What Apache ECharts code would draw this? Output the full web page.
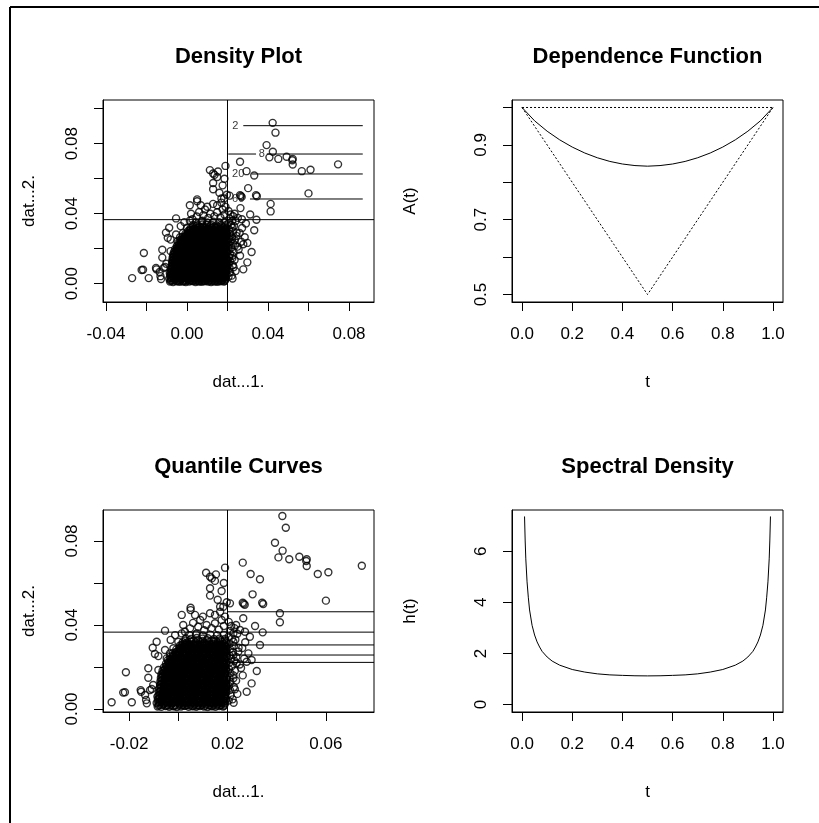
<!DOCTYPE html>
<html>
<head>
<meta charset="utf-8">
<script src="https://cdn.jsdelivr.net/npm/echarts@6.0.0/dist/echarts.min.js"></script>
<style>
html,body{margin:0;padding:0;background:#fff;}
#chart{width:819px;height:823px;}
</style>
</head>
<body>
<div id="chart"></div>
<script>
// ---------- data ----------
// scatter data (dat[,1], dat[,2]) shared by the two left panels
const outerPoints = [
[0.0423,0.0919],[0.0437,0.0863],[0.0393,0.0792],[0.0424,0.0754],[0.0407,0.0722],[0.0451,0.0713],[0.0492,0.0725],[0.0522,0.0713],[0.0520,0.0705],[0.0522,0.0681],[0.0567,0.0643],[0.0610,0.0651],[0.0746,0.0682],[0.0600,0.0516],[0.0262,0.0697],[0.0294,0.0643],[0.0332,0.0618],[0.0302,0.0546],[0.0262,0.0506],[0.0266,0.0501],[0.0270,0.0496],[0.0341,0.0506],[0.0345,0.0500],[0.0210,0.0503],[0.0413,0.0456],[0.0413,0.0413]
];
const midPoints = [
[0.0264,0.0432],[0.0235,0.0400],[0.0251,0.0376],[0.0312,0.0395],[0.0343,0.0365],[0.0271,0.0368],[0.0224,0.0360],[0.0291,0.0344],[0.0332,0.0305],[0.0224,0.0320],[0.0244,0.0273],[0.0285,0.0265],[0.0224,0.0257],[0.0298,0.0233],[0.0237,0.0218],[0.0278,0.0225],[0.0319,0.0181],[0.0224,0.0146],[0.0230,0.0094],[0.0298,0.0122],[0.0278,0.0082],[0.0221,0.0046],
[0.0190,0.0673],[0.0113,0.0649],[0.0153,0.0641],[0.0129,0.0630],[0.0136,0.0622],[0.0149,0.0610],[0.0129,0.0575],[0.0129,0.0540],[0.0176,0.0562],[0.0050,0.0482],[0.0197,0.0508],[0.0170,0.0487]
];
const leftPoints = [
[-0.0271,0.0032],[-0.0217,0.0080],[-0.0189,0.0032],[-0.0213,0.0175],[-0.0054,0.0373],[0.0014,0.0448],[0.0050,0.0471],[0.0068,0.0448],[-0.0088,0.0320],[-0.0104,0.0292],[-0.0095,0.0262],[-0.0081,0.0252],[-0.0122,0.0194],[-0.0122,0.0149],[-0.0153,0.0090],[-0.0135,0.0067],[-0.0115,0.0090],[-0.0131,0.0043],[-0.0102,0.0114],[-0.0085,0.0059],[-0.0081,0.0186],[-0.0047,0.0241],[-0.0034,0.0265],[-0.0224,0.0078],[-0.0151,0.0082],[-0.0128,0.0027],[-0.0108,0.0095]
];
const edgePoints = [
[0.0089,0.0424],[0.0129,0.0456],[0.0149,0.0448],[0.0170,0.0463],[0.0183,0.0487],[0.0027,0.0368],[0.0014,0.0360],[0.0048,0.0384],[0.0081,0.0392],[0.0115,0.0400],[0.0149,0.0408],[0.0176,0.0424],[0.0075,0.0360],[-0.0013,0.0352],[-0.0031,0.0329],[0.0000,0.0320],[-0.0054,0.0281],[-0.0020,0.0289],[0.0020,0.0400],[0.0105,0.0375],[0.0135,0.0385],[0.0165,0.0378],[0.0185,0.0395],[0.0060,0.0410],[0.0100,0.0440],[0.0190,0.0440],[0.0160,0.0520],[0.0185,0.0600]
];
const rightDensePoints = [
[0.0205,0.0415],[0.0215,0.0395],[0.0228,0.0385],[0.0210,0.0372],[0.0240,0.0358],[0.0205,0.0345],[0.0218,0.0335],[0.0232,0.0330],[0.0208,0.0310],[0.0226,0.0300],[0.0245,0.0292],[0.0210,0.0285],[0.0222,0.0270],[0.0208,0.0255],[0.0236,0.0248],[0.0215,0.0240],[0.0228,0.0230],[0.0207,0.0220],[0.0250,0.0212],[0.0218,0.0205],[0.0206,0.0190],[0.0230,0.0182],[0.0212,0.0170],[0.0224,0.0160],[0.0208,0.0150],[0.0235,0.0135],[0.0212,0.0128],[0.0205,0.0110],[0.0226,0.0105],[0.0210,0.0090],[0.0240,0.0072],[0.0212,0.0065],[0.0205,0.0040],[0.0225,0.0030],[0.0260,0.0290],[0.0268,0.0240],[0.0255,0.0195],[0.0262,0.0160],[0.0272,0.0318]
];
const coreBlobPoints = [
[-0.0084,0.0012],[-0.0069,0.0010],[-0.0052,0.0014],[-0.0037,0.0011],[-0.0021,0.0013],[-0.0006,0.0009],[0.0011,0.0012],[0.0025,0.0015],[0.0042,0.0010],[0.0057,0.0013],[0.0073,0.0011],[0.0088,0.0014],[0.0104,0.0012],[0.0119,0.0009],[0.0135,0.0013],[0.0151,0.0011],[0.0166,0.0014],[0.0182,0.0012],
[-0.0088,0.0029],[-0.0076,0.0031],[-0.0061,0.0027],[-0.0045,0.0030],[-0.0029,0.0028],[-0.0013,0.0032],[0.0003,0.0027],[0.0018,0.0030],[0.0034,0.0029],[0.0049,0.0031],[0.0065,0.0027],[0.0081,0.0030],[0.0096,0.0028],[0.0112,0.0032],[0.0127,0.0029],[0.0143,0.0027],[0.0158,0.0031],[0.0174,0.0029],[0.0190,0.0028],
[-0.0083,0.0046],[-0.0068,0.0044],[-0.0053,0.0048],[-0.0037,0.0045],[-0.0022,0.0047],[-0.0005,0.0043],[0.0010,0.0046],[0.0026,0.0049],[0.0041,0.0044],[0.0057,0.0047],[0.0072,0.0045],[0.0089,0.0048],[0.0104,0.0044],[0.0120,0.0046],[0.0135,0.0048],[0.0150,0.0045],[0.0167,0.0047],[0.0183,0.0044],[0.0195,0.0047],
[-0.0081,0.0063],[-0.0066,0.0061],[-0.0045,0.0065],[-0.0030,0.0062],[-0.0014,0.0064],[0.0002,0.0060],[0.0018,0.0063],[0.0033,0.0066],[0.0049,0.0061],[0.0065,0.0064],[0.0080,0.0062],[0.0097,0.0065],[0.0112,0.0061],[0.0128,0.0063],[0.0143,0.0066],[0.0159,0.0062],[0.0175,0.0064],[0.0190,0.0061],
[-0.0079,0.0080],[-0.0063,0.0078],[-0.0052,0.0082],[-0.0037,0.0079],[-0.0021,0.0081],[-0.0006,0.0077],[0.0010,0.0080],[0.0026,0.0083],[0.0041,0.0078],[0.0057,0.0081],[0.0072,0.0079],[0.0088,0.0082],[0.0104,0.0078],[0.0119,0.0080],[0.0135,0.0083],[0.0151,0.0079],[0.0166,0.0081],[0.0182,0.0078],[0.0196,0.0080],
[-0.0077,0.0097],[-0.0060,0.0095],[-0.0045,0.0099],[-0.0029,0.0096],[-0.0013,0.0098],[0.0003,0.0094],[0.0018,0.0097],[0.0034,0.0100],[0.0049,0.0095],[0.0065,0.0098],[0.0081,0.0096],[0.0096,0.0099],[0.0112,0.0095],[0.0127,0.0097],[0.0143,0.0100],[0.0158,0.0096],[0.0174,0.0098],[0.0190,0.0095],
[-0.0074,0.0114],[-0.0059,0.0112],[-0.0037,0.0116],[-0.0021,0.0113],[-0.0006,0.0115],[0.0010,0.0111],[0.0026,0.0114],[0.0041,0.0117],[0.0057,0.0112],[0.0072,0.0115],[0.0088,0.0113],[0.0104,0.0116],[0.0119,0.0112],[0.0135,0.0114],[0.0151,0.0117],[0.0166,0.0113],[0.0182,0.0115],[0.0196,0.0112],
[-0.0073,0.0131],[-0.0060,0.0129],[-0.0045,0.0133],[-0.0029,0.0130],[-0.0013,0.0132],[0.0003,0.0128],[0.0018,0.0131],[0.0034,0.0134],[0.0049,0.0129],[0.0065,0.0132],[0.0081,0.0130],[0.0096,0.0133],[0.0112,0.0129],[0.0127,0.0131],[0.0143,0.0134],[0.0158,0.0130],[0.0174,0.0132],[0.0190,0.0129],
[-0.0071,0.0148],[-0.0054,0.0146],[-0.0037,0.0150],[-0.0021,0.0147],[-0.0006,0.0149],[0.0010,0.0145],[0.0026,0.0148],[0.0041,0.0151],[0.0057,0.0146],[0.0072,0.0149],[0.0088,0.0147],[0.0104,0.0150],[0.0119,0.0146],[0.0135,0.0148],[0.0151,0.0151],[0.0166,0.0147],[0.0182,0.0149],[0.0196,0.0146],
[-0.0069,0.0165],[-0.0056,0.0163],[-0.0045,0.0167],[-0.0029,0.0164],[-0.0013,0.0166],[0.0003,0.0162],[0.0018,0.0165],[0.0034,0.0168],[0.0049,0.0163],[0.0065,0.0166],[0.0081,0.0164],[0.0096,0.0167],[0.0112,0.0163],[0.0127,0.0165],[0.0143,0.0168],[0.0158,0.0164],[0.0174,0.0166],[0.0190,0.0163],
[-0.0064,0.0182],[-0.0050,0.0180],[-0.0037,0.0184],[-0.0021,0.0181],[-0.0006,0.0183],[0.0010,0.0179],[0.0026,0.0182],[0.0041,0.0185],[0.0057,0.0180],[0.0072,0.0183],[0.0088,0.0181],[0.0104,0.0184],[0.0119,0.0180],[0.0135,0.0182],[0.0151,0.0185],[0.0166,0.0181],[0.0182,0.0183],[0.0196,0.0180],
[-0.0058,0.0199],[-0.0045,0.0197],[-0.0029,0.0201],[-0.0013,0.0198],[0.0003,0.0200],[0.0018,0.0196],[0.0034,0.0199],[0.0049,0.0202],[0.0065,0.0197],[0.0081,0.0200],[0.0096,0.0198],[0.0112,0.0201],[0.0127,0.0197],[0.0143,0.0199],[0.0158,0.0202],[0.0174,0.0198],[0.0190,0.0200],
[-0.0050,0.0216],[-0.0037,0.0214],[-0.0021,0.0218],[-0.0006,0.0215],[0.0010,0.0217],[0.0026,0.0213],[0.0041,0.0216],[0.0057,0.0219],[0.0072,0.0214],[0.0088,0.0217],[0.0104,0.0215],[0.0119,0.0218],[0.0135,0.0214],[0.0151,0.0216],[0.0166,0.0219],[0.0182,0.0215],[0.0196,0.0217],
[-0.0042,0.0233],[-0.0029,0.0231],[-0.0013,0.0235],[0.0003,0.0232],[0.0018,0.0234],[0.0034,0.0230],[0.0049,0.0233],[0.0065,0.0236],[0.0081,0.0231],[0.0096,0.0234],[0.0112,0.0232],[0.0127,0.0235],[0.0143,0.0231],[0.0158,0.0233],[0.0174,0.0236],[0.0190,0.0232],
[-0.0033,0.0250],[-0.0021,0.0248],[-0.0006,0.0252],[0.0010,0.0249],[0.0026,0.0251],[0.0041,0.0247],[0.0057,0.0250],[0.0072,0.0253],[0.0088,0.0248],[0.0104,0.0251],[0.0119,0.0249],[0.0135,0.0252],[0.0151,0.0248],[0.0166,0.0250],[0.0182,0.0253],[0.0196,0.0249],
[-0.0022,0.0267],[-0.0010,0.0265],[0.0003,0.0269],[0.0018,0.0266],[0.0034,0.0268],[0.0049,0.0264],[0.0065,0.0267],[0.0081,0.0270],[0.0096,0.0265],[0.0112,0.0268],[0.0127,0.0266],[0.0143,0.0269],[0.0158,0.0265],[0.0174,0.0267],[0.0190,0.0270],
[-0.0008,0.0284],[0.0008,0.0282],[0.0024,0.0286],[0.0041,0.0283],[0.0057,0.0285],[0.0072,0.0281],[0.0088,0.0284],[0.0104,0.0287],[0.0119,0.0282],[0.0135,0.0285],[0.0151,0.0283],[0.0166,0.0286],[0.0182,0.0282],[0.0196,0.0284],
[0.0006,0.0301],[0.0020,0.0299],[0.0036,0.0303],[0.0052,0.0300],[0.0068,0.0302],[0.0084,0.0298],[0.0100,0.0301],[0.0115,0.0304],[0.0131,0.0299],[0.0147,0.0302],[0.0163,0.0300],[0.0178,0.0303],[0.0193,0.0299],
[0.0018,0.0318],[0.0034,0.0316],[0.0052,0.0320],[0.0070,0.0317],[0.0088,0.0319],[0.0106,0.0315],[0.0124,0.0318],[0.0142,0.0321],[0.0160,0.0316],[0.0178,0.0319],[0.0194,0.0317],
[0.0030,0.0336],[0.0052,0.0334],[0.0075,0.0338],[0.0098,0.0335],[0.0120,0.0337],[0.0145,0.0333],[0.0168,0.0336],[0.0190,0.0334],
[0.0045,0.0352],[0.0072,0.0355],[0.0100,0.0350],[0.0130,0.0354],[0.0158,0.0351],[0.0185,0.0353]
];
const innerBlobPoints = [
[-0.0078,0.0020],[-0.0061,0.0022],[-0.0044,0.0019],[-0.0029,0.0021],[-0.0013,0.0018],[0.0004,0.0022],[0.0019,0.0020],[0.0035,0.0019],[0.0050,0.0022],[0.0066,0.0020],[0.0081,0.0018],[0.0097,0.0021],[0.0112,0.0022],[0.0128,0.0019],[0.0144,0.0020],[0.0159,0.0022],[0.0175,0.0019],[0.0188,0.0021],
[-0.0076,0.0037],[-0.0060,0.0039],[-0.0045,0.0036],[-0.0029,0.0038],[-0.0014,0.0035],[0.0002,0.0039],[0.0017,0.0037],[0.0033,0.0036],[0.0049,0.0039],[0.0064,0.0037],[0.0080,0.0035],[0.0095,0.0038],[0.0111,0.0039],[0.0127,0.0036],[0.0142,0.0037],[0.0158,0.0039],[0.0173,0.0036],[0.0189,0.0038],
[-0.0075,0.0054],[-0.0060,0.0056],[-0.0044,0.0053],[-0.0028,0.0055],[-0.0013,0.0052],[0.0003,0.0056],[0.0019,0.0054],[0.0034,0.0053],[0.0050,0.0056],[0.0065,0.0054],[0.0081,0.0052],[0.0096,0.0055],[0.0112,0.0056],[0.0128,0.0053],[0.0143,0.0054],[0.0159,0.0056],[0.0174,0.0053],[0.0190,0.0055],
[-0.0073,0.0071],[-0.0057,0.0073],[-0.0041,0.0070],[-0.0026,0.0072],[-0.0010,0.0069],[0.0005,0.0073],[0.0021,0.0071],[0.0036,0.0070],[0.0052,0.0073],[0.0068,0.0071],[0.0083,0.0069],[0.0099,0.0072],[0.0114,0.0073],[0.0130,0.0070],[0.0146,0.0071],[0.0161,0.0073],[0.0177,0.0070],[0.0192,0.0072],
[-0.0071,0.0088],[-0.0055,0.0090],[-0.0038,0.0087],[-0.0022,0.0089],[-0.0006,0.0086],[0.0010,0.0090],[0.0026,0.0088],[0.0041,0.0087],[0.0057,0.0090],[0.0072,0.0088],[0.0088,0.0086],[0.0104,0.0089],[0.0119,0.0090],[0.0135,0.0087],[0.0150,0.0088],[0.0166,0.0090],[0.0182,0.0087],[0.0195,0.0089],
[-0.0069,0.0105],[-0.0053,0.0107],[-0.0037,0.0104],[-0.0021,0.0106],[-0.0005,0.0103],[0.0011,0.0107],[0.0027,0.0105],[0.0042,0.0104],[0.0058,0.0107],[0.0073,0.0105],[0.0089,0.0103],[0.0105,0.0106],[0.0120,0.0107],[0.0136,0.0104],[0.0151,0.0105],[0.0167,0.0107],[0.0183,0.0104],[0.0195,0.0106],
[-0.0067,0.0122],[-0.0051,0.0124],[-0.0036,0.0121],[-0.0020,0.0123],[-0.0004,0.0120],[0.0012,0.0124],[0.0027,0.0122],[0.0043,0.0121],[0.0058,0.0124],[0.0074,0.0122],[0.0090,0.0120],[0.0105,0.0123],[0.0121,0.0124],[0.0136,0.0121],[0.0152,0.0122],[0.0168,0.0124],[0.0183,0.0121],[0.0195,0.0123],
[-0.0065,0.0139],[-0.0050,0.0141],[-0.0034,0.0138],[-0.0018,0.0140],[-0.0003,0.0137],[0.0013,0.0141],[0.0028,0.0139],[0.0044,0.0138],[0.0059,0.0141],[0.0075,0.0139],[0.0091,0.0137],[0.0106,0.0140],[0.0122,0.0141],[0.0137,0.0138],[0.0153,0.0139],[0.0169,0.0141],[0.0184,0.0138],[0.0196,0.0140],
[-0.0063,0.0156],[-0.0048,0.0158],[-0.0032,0.0155],[-0.0016,0.0157],[0.0000,0.0154],[0.0015,0.0158],[0.0031,0.0156],[0.0046,0.0155],[0.0062,0.0158],[0.0077,0.0156],[0.0093,0.0154],[0.0109,0.0157],[0.0124,0.0158],[0.0140,0.0155],[0.0155,0.0156],[0.0171,0.0158],[0.0186,0.0155],
[-0.0059,0.0173],[-0.0044,0.0175],[-0.0028,0.0172],[-0.0012,0.0174],[0.0004,0.0171],[0.0019,0.0175],[0.0035,0.0173],[0.0050,0.0172],[0.0066,0.0175],[0.0081,0.0173],[0.0097,0.0171],[0.0113,0.0174],[0.0128,0.0175],[0.0144,0.0172],[0.0159,0.0173],[0.0175,0.0175],[0.0190,0.0172],
[-0.0053,0.0190],[-0.0038,0.0192],[-0.0022,0.0189],[-0.0006,0.0191],[0.0010,0.0188],[0.0025,0.0192],[0.0041,0.0190],[0.0056,0.0189],[0.0072,0.0192],[0.0087,0.0190],[0.0103,0.0188],[0.0119,0.0191],[0.0134,0.0192],[0.0150,0.0189],[0.0165,0.0190],[0.0181,0.0192],[0.0195,0.0189],
[-0.0045,0.0207],[-0.0030,0.0209],[-0.0014,0.0206],[0.0002,0.0208],[0.0018,0.0205],[0.0033,0.0209],[0.0049,0.0207],[0.0064,0.0206],[0.0080,0.0209],[0.0095,0.0207],[0.0111,0.0205],[0.0127,0.0208],[0.0142,0.0209],[0.0158,0.0206],[0.0173,0.0207],[0.0189,0.0209],
[-0.0037,0.0224],[-0.0022,0.0226],[-0.0006,0.0223],[0.0010,0.0225],[0.0026,0.0222],[0.0041,0.0226],[0.0057,0.0224],[0.0072,0.0223],[0.0088,0.0226],[0.0103,0.0224],[0.0119,0.0222],[0.0135,0.0225],[0.0150,0.0226],[0.0166,0.0223],[0.0181,0.0224],[0.0196,0.0226],
[-0.0027,0.0241],[-0.0012,0.0243],[0.0004,0.0240],[0.0020,0.0242],[0.0035,0.0239],[0.0051,0.0243],[0.0066,0.0241],[0.0082,0.0240],[0.0098,0.0243],[0.0113,0.0241],[0.0129,0.0239],[0.0144,0.0242],[0.0160,0.0243],[0.0175,0.0240],[0.0191,0.0241],
[-0.0015,0.0258],[0.0000,0.0260],[0.0016,0.0257],[0.0031,0.0259],[0.0047,0.0256],[0.0063,0.0260],[0.0078,0.0258],[0.0094,0.0257],[0.0109,0.0260],[0.0125,0.0258],[0.0141,0.0256],[0.0156,0.0259],[0.0172,0.0260],[0.0187,0.0257],
[-0.0003,0.0275],[0.0012,0.0277],[0.0028,0.0274],[0.0044,0.0276],[0.0059,0.0273],[0.0075,0.0277],[0.0090,0.0275],[0.0106,0.0274],[0.0122,0.0277],[0.0137,0.0275],[0.0153,0.0273],[0.0168,0.0276],[0.0184,0.0277],[0.0196,0.0274],
[0.0009,0.0292],[0.0025,0.0294],[0.0041,0.0291],[0.0056,0.0293],[0.0072,0.0290],[0.0088,0.0294],[0.0103,0.0292],[0.0119,0.0291],[0.0134,0.0294],[0.0150,0.0292],[0.0166,0.0290],[0.0181,0.0293],[0.0195,0.0294],
[0.0019,0.0309],[0.0035,0.0311],[0.0050,0.0308],[0.0066,0.0310],[0.0082,0.0307],[0.0097,0.0311],[0.0113,0.0309],[0.0128,0.0308],[0.0144,0.0311],[0.0160,0.0309],[0.0175,0.0307],[0.0190,0.0310],
[0.0029,0.0326],[0.0046,0.0328],[0.0063,0.0325],[0.0081,0.0327],[0.0099,0.0324],[0.0117,0.0328],[0.0135,0.0326],[0.0153,0.0325],[0.0171,0.0328],[0.0189,0.0326]
];
const fillBlobPoints = [
[-0.0080,0.0016],[-0.0065,0.0018],[-0.0048,0.0015],[-0.0033,0.0017],[-0.0017,0.0014],[-0.0001,0.0016],[0.0015,0.0018],[0.0030,0.0015],[0.0046,0.0017],[0.0062,0.0014],[0.0077,0.0016],[0.0093,0.0018],[0.0109,0.0015],[0.0124,0.0017],[0.0140,0.0014],[0.0156,0.0016],[0.0171,0.0018],[0.0186,0.0015],
[-0.0082,0.0033],[-0.0067,0.0035],[-0.0051,0.0032],[-0.0035,0.0034],[-0.0020,0.0031],[-0.0004,0.0033],[0.0012,0.0035],[0.0027,0.0032],[0.0043,0.0034],[0.0059,0.0031],[0.0074,0.0033],[0.0090,0.0035],[0.0106,0.0032],[0.0121,0.0034],[0.0137,0.0031],[0.0153,0.0033],[0.0168,0.0035],[0.0184,0.0032],
[-0.0079,0.0050],[-0.0063,0.0052],[-0.0047,0.0049],[-0.0032,0.0051],[-0.0016,0.0048],[0.0000,0.0050],[0.0015,0.0052],[0.0031,0.0049],[0.0047,0.0051],[0.0062,0.0048],[0.0078,0.0050],[0.0094,0.0052],[0.0109,0.0049],[0.0125,0.0051],[0.0141,0.0048],[0.0156,0.0050],[0.0172,0.0052],[0.0188,0.0049],
[-0.0077,0.0067],[-0.0061,0.0069],[-0.0046,0.0066],[-0.0030,0.0068],[-0.0014,0.0065],[0.0001,0.0067],[0.0017,0.0069],[0.0033,0.0066],[0.0048,0.0068],[0.0064,0.0065],[0.0080,0.0067],[0.0095,0.0069],[0.0111,0.0066],[0.0127,0.0068],[0.0142,0.0065],[0.0158,0.0067],[0.0174,0.0069],[0.0189,0.0066],
[-0.0075,0.0084],[-0.0059,0.0086],[-0.0044,0.0083],[-0.0028,0.0085],[-0.0012,0.0082],[0.0003,0.0084],[0.0019,0.0086],[0.0035,0.0083],[0.0050,0.0085],[0.0066,0.0082],[0.0082,0.0084],[0.0097,0.0086],[0.0113,0.0083],[0.0129,0.0085],[0.0144,0.0082],[0.0160,0.0084],[0.0176,0.0086],[0.0191,0.0083],
[-0.0073,0.0101],[-0.0057,0.0103],[-0.0042,0.0100],[-0.0026,0.0102],[-0.0010,0.0099],[0.0005,0.0101],[0.0021,0.0103],[0.0037,0.0100],[0.0052,0.0102],[0.0068,0.0099],[0.0084,0.0101],[0.0099,0.0103],[0.0115,0.0100],[0.0131,0.0102],[0.0146,0.0099],[0.0162,0.0101],[0.0178,0.0103],[0.0193,0.0100],
[-0.0071,0.0118],[-0.0055,0.0120],[-0.0040,0.0117],[-0.0024,0.0119],[-0.0008,0.0116],[0.0007,0.0118],[0.0023,0.0120],[0.0039,0.0117],[0.0054,0.0119],[0.0070,0.0116],[0.0086,0.0118],[0.0101,0.0120],[0.0117,0.0117],[0.0133,0.0119],[0.0148,0.0116],[0.0164,0.0118],[0.0180,0.0120],[0.0194,0.0117],
[-0.0069,0.0135],[-0.0053,0.0137],[-0.0038,0.0134],[-0.0022,0.0136],[-0.0006,0.0133],[0.0009,0.0135],[0.0025,0.0137],[0.0041,0.0134],[0.0056,0.0136],[0.0072,0.0133],[0.0088,0.0135],[0.0103,0.0137],[0.0119,0.0134],[0.0135,0.0136],[0.0150,0.0133],[0.0166,0.0135],[0.0182,0.0137],[0.0195,0.0134],
[-0.0067,0.0152],[-0.0051,0.0154],[-0.0036,0.0151],[-0.0020,0.0153],[-0.0004,0.0150],[0.0011,0.0152],[0.0027,0.0154],[0.0043,0.0151],[0.0058,0.0153],[0.0074,0.0150],[0.0090,0.0152],[0.0105,0.0154],[0.0121,0.0151],[0.0137,0.0153],[0.0152,0.0150],[0.0168,0.0152],[0.0184,0.0154],
[-0.0064,0.0169],[-0.0048,0.0171],[-0.0033,0.0168],[-0.0017,0.0170],[-0.0001,0.0167],[0.0014,0.0169],[0.0030,0.0171],[0.0046,0.0168],[0.0061,0.0170],[0.0077,0.0167],[0.0093,0.0169],[0.0108,0.0171],[0.0124,0.0168],[0.0140,0.0170],[0.0155,0.0167],[0.0171,0.0169],[0.0187,0.0171],
[-0.0058,0.0186],[-0.0042,0.0188],[-0.0027,0.0185],[-0.0011,0.0187],[0.0005,0.0184],[0.0020,0.0186],[0.0036,0.0188],[0.0052,0.0185],[0.0067,0.0187],[0.0083,0.0184],[0.0099,0.0186],[0.0114,0.0188],[0.0130,0.0185],[0.0146,0.0187],[0.0161,0.0184],[0.0177,0.0186],[0.0192,0.0188],
[-0.0050,0.0203],[-0.0034,0.0205],[-0.0019,0.0202],[-0.0003,0.0204],[0.0013,0.0201],[0.0028,0.0203],[0.0044,0.0205],[0.0060,0.0202],[0.0075,0.0204],[0.0091,0.0201],[0.0107,0.0203],[0.0122,0.0205],[0.0138,0.0202],[0.0154,0.0204],[0.0169,0.0201],[0.0185,0.0203],
[-0.0042,0.0220],[-0.0026,0.0222],[-0.0011,0.0219],[0.0005,0.0221],[0.0021,0.0218],[0.0036,0.0220],[0.0052,0.0222],[0.0068,0.0219],[0.0083,0.0221],[0.0099,0.0218],[0.0115,0.0220],[0.0130,0.0222],[0.0146,0.0219],[0.0162,0.0221],[0.0177,0.0218],[0.0193,0.0220],
[-0.0033,0.0237],[-0.0017,0.0239],[-0.0002,0.0236],[0.0014,0.0238],[0.0030,0.0235],[0.0045,0.0237],[0.0061,0.0239],[0.0077,0.0236],[0.0092,0.0238],[0.0108,0.0235],[0.0124,0.0237],[0.0139,0.0239],[0.0155,0.0236],[0.0171,0.0238],[0.0186,0.0235],
[-0.0022,0.0254],[-0.0006,0.0256],[0.0009,0.0253],[0.0025,0.0255],[0.0041,0.0252],[0.0056,0.0254],[0.0072,0.0256],[0.0088,0.0253],[0.0103,0.0255],[0.0119,0.0252],[0.0135,0.0254],[0.0150,0.0256],[0.0166,0.0253],[0.0182,0.0255],[0.0195,0.0252],
[-0.0010,0.0271],[0.0006,0.0273],[0.0021,0.0270],[0.0037,0.0272],[0.0053,0.0269],[0.0068,0.0271],[0.0084,0.0273],[0.0100,0.0270],[0.0115,0.0272],[0.0131,0.0269],[0.0147,0.0271],[0.0162,0.0273],[0.0178,0.0270],[0.0193,0.0272],
[0.0003,0.0288],[0.0019,0.0290],[0.0034,0.0287],[0.0050,0.0289],[0.0066,0.0286],[0.0081,0.0288],[0.0097,0.0290],[0.0113,0.0287],[0.0128,0.0289],[0.0144,0.0286],[0.0160,0.0288],[0.0175,0.0290],[0.0191,0.0287],
[0.0013,0.0305],[0.0029,0.0307],[0.0044,0.0304],[0.0060,0.0306],[0.0076,0.0303],[0.0091,0.0305],[0.0107,0.0307],[0.0123,0.0304],[0.0138,0.0306],[0.0154,0.0303],[0.0170,0.0305],[0.0185,0.0307]
];

// thresholds (vertical / horizontal reference lines)
const thresholdX = 0.02;
const thresholdY = 0.0366;

// Density plot: contour levels and their labels
const contourLabels = ['2', '8', '20', '60'];
const contourY = [0.0903, 0.0741, 0.0627, 0.0484];
const contourLabelX = [0.0239, 0.0369, 0.0253, 0.0253];
const contourSegmentsX = [[[0.0278, 0.0868]], [[0.0204, 0.0341], [0.0394, 0.0868]], [[0.0319, 0.0868]], [[0.0311, 0.0868]]];

// Quantile curves: horizontal levels right of threshold
const quantileY = [0.0463, 0.0305, 0.0257, 0.0222];

// Dependence function A(t)
const depT = [0,0.05,0.10,0.15,0.20,0.25,0.30,0.35,0.40,0.45,0.50,0.55,0.60,0.65,0.70,0.75,0.80,0.85,0.90,0.95,1.00];
const depA = [1,0.9644,0.9366,0.9135,0.8942,0.8783,0.8656,0.8558,0.8489,0.8447,0.8431,0.8447,0.8489,0.8558,0.8656,0.8783,0.8942,0.9135,0.9366,0.9644,1];
const boundTop = [[0,1],[1,1]];
const boundV = [[0,1],[0.5,0.5],[1,1]];

// Spectral density h(t)
const specT = [0.01,0.0125,0.015,0.02,0.025,0.03,0.04,0.05,0.06,0.07,0.08,0.10,0.12,0.15,0.20,0.25,0.30,0.35,0.40,0.45,0.50,0.55,0.60,0.65,0.70,0.75,0.80,0.85,0.88,0.90,0.92,0.93,0.94,0.95,0.96,0.97,0.975,0.98,0.985,0.9875,0.99];
const specH = [7.36,6.40,5.70,4.80,4.20,3.70,3.10,2.72,2.45,2.25,2.08,1.86,1.70,1.54,1.37,1.27,1.20,1.16,1.14,1.125,1.12,1.125,1.14,1.16,1.20,1.27,1.37,1.54,1.70,1.86,2.08,2.25,2.45,2.72,3.10,3.70,4.20,4.80,5.70,6.40,7.36];

// ticks / labels
const p1xTicks = [-0.04,-0.02,0,0.02,0.04,0.06,0.08], p1xLabels = [-0.04,0,0.04,0.08];
const p1yTicks = [0,0.02,0.04,0.06,0.08,0.10], p1yLabels = [0,0.04,0.08];
const p3xTicks = [-0.02,0,0.02,0.04,0.06], p3xLabels = [-0.02,0.02,0.06];
const p3yTicks = [0,0.02,0.04,0.06,0.08], p3yLabels = [0,0.04,0.08];
const tTicks = [0,0.2,0.4,0.6,0.8,1.0];
const aTicks = [0.5,0.6,0.7,0.8,0.9,1.0], aLabels = [0.5,0.7,0.9];
const hTicks = [0,2,4,6];

const titles = ['Density Plot','Dependence Function','Quantile Curves','Spectral Density'];
const xNames = ['dat...1.','t','dat...1.','t'];
const yNames = ['dat...2.','A(t)','dat...2.','h(t)'];

// ---------- chart ----------
const FONT = 'Liberation Sans, Arial, sans-serif';
const allPoints = [].concat(coreBlobPoints, innerBlobPoints, fillBlobPoints, rightDensePoints, edgePoints, leftPoints, midPoints, outerPoints);

const ranges = [
  {x:[-0.04148,0.09235], y:[-0.01046,0.10497]},
  {x:[-0.04,1.04], y:[0.48,1.02]},
  {x:[-0.03061,0.07955], y:[-0.00143,0.09476]},
  {x:[-0.04,1.04], y:[-0.293,7.613]}
];
const grids = [
  {left:103, top:100, width:271, height:202},
  {left:512, top:100, width:271, height:202},
  {left:103, top:510, width:271, height:202},
  {left:512, top:510, width:271, height:202}
];

function mkAxis(gi, range, ticks, labels, fmt, isY) {
  return {
    type:'value', gridIndex:gi, min:range[0], max:range[1],
    axisLine:{show:true, onZero:false, lineStyle:{color:'#000', width:1}},
    axisTick:{show:true, length:9, customValues:ticks, lineStyle:{color:'#000', width:1}},
    axisLabel:{show:true, customValues:labels, formatter:fmt, fontSize:17, fontFamily:FONT, color:'#000',
      margin: isY ? 22 : 24, rotate: isY ? 90 : 0},
    splitLine:{show:false}
  };
}
const f2 = v => Number(v).toFixed(2);
const f1 = v => Number(v).toFixed(1);
const f0 = v => Number(v).toFixed(0);

const xAxes = [
  mkAxis(0, ranges[0].x, p1xTicks, p1xLabels, f2, false),
  mkAxis(1, ranges[1].x, tTicks, tTicks, f1, false),
  mkAxis(2, ranges[2].x, p3xTicks, p3xLabels, f2, false),
  mkAxis(3, ranges[3].x, tTicks, tTicks, f1, false)
];
const yAxes = [
  mkAxis(0, ranges[0].y, p1yTicks, p1yLabels, f2, true),
  mkAxis(1, ranges[1].y, aTicks, aLabels, f1, true),
  mkAxis(2, ranges[2].y, p3yTicks, p3yLabels, f2, true),
  mkAxis(3, ranges[3].y, hTicks, hTicks, f0, true)
];

function lineSeries(gi, pts, dash) {
  return {type:'line', xAxisIndex:gi, yAxisIndex:gi, data:pts, symbol:'none', silent:true,
    lineStyle:{color:'#000', width:1, type: dash || 'solid'}, z:3, animation:false};
}
function scatterSeries(gi) {
  return {type:'scatter', xAxisIndex:gi, yAxisIndex:gi, data:allPoints, symbol:'circle', symbolSize:7,
    silent:true, animation:false, z:2, progressive:0,
    itemStyle:{color:'rgba(0,0,0,0)', borderColor:'#000', borderWidth:1.4}};
}

const series = [];
// panel 1
series.push(scatterSeries(0));
series.push(lineSeries(0, [[thresholdX, ranges[0].y[0]], [thresholdX, ranges[0].y[1]]]));
series.push(lineSeries(0, [[ranges[0].x[0], thresholdY], [ranges[0].x[1], thresholdY]]));
contourY.forEach((y, i) => {
  contourSegmentsX[i].forEach(seg => series.push(lineSeries(0, [[seg[0], y], [seg[1], y]])));
});
series.push({type:'scatter', xAxisIndex:0, yAxisIndex:0, symbolSize:0, silent:true, z:4, animation:false,
  data: contourLabels.map((l, i) => ({name:l, value:[contourLabelX[i], contourY[i]]})),
  label:{show:true, position:'inside', formatter:p => p.name, fontSize:11, fontFamily:FONT, color:'#000'}});
// panel 2
series.push(lineSeries(1, depT.map((t, i) => [t, depA[i]])));
series.push(lineSeries(1, boundTop, [2, 2]));
series.push(lineSeries(1, boundV, [2, 2]));
// panel 3
series.push(scatterSeries(2));
series.push(lineSeries(2, [[thresholdX, ranges[2].y[0]], [thresholdX, ranges[2].y[1]]]));
series.push(lineSeries(2, [[ranges[2].x[0], thresholdY], [ranges[2].x[1], thresholdY]]));
quantileY.forEach(y => series.push(lineSeries(2, [[thresholdX, y], [ranges[2].x[1], y]])));
// panel 4
series.push(lineSeries(3, specT.map((t, i) => [t, specH[i]])));

// texts
const colC = [238.5, 647.5];
const rowTop = [100, 510];
const graphic = [
  {type:'line', shape:{x1:10, y1:7, x2:819, y2:7}, style:{stroke:'#000', lineWidth:2}, silent:true},
  {type:'line', shape:{x1:10, y1:7, x2:10, y2:823}, style:{stroke:'#000', lineWidth:2}, silent:true}
];
for (let i = 0; i < 4; i++) {
  const c = i % 2, r = Math.floor(i / 2);
  graphic.push({type:'text', x:colC[c], y:rowTop[r] - 43, silent:true,
    style:{text:titles[i], fill:'#000', font:'bold 22px ' + FONT, align:'center', verticalAlign:'middle', textAlign:'center', textVerticalAlign:'middle'}});
  graphic.push({type:'text', x:colC[c], y:rowTop[r] + 282, silent:true,
    style:{text:xNames[i], fill:'#000', font:'17px ' + FONT, align:'center', verticalAlign:'middle', textAlign:'center', textVerticalAlign:'middle'}});
  graphic.push({type:'text', x: c === 0 ? 29 : 410, y:rowTop[r] + 101, rotation:Math.PI / 2, silent:true,
    style:{text:yNames[i], fill:'#000', font:'17px ' + FONT, align:'center', verticalAlign:'middle', textAlign:'center', textVerticalAlign:'middle'}});
}

const chart = echarts.init(document.getElementById('chart'), null, {renderer:'canvas'});
chart.setOption({
  animation:false,
  backgroundColor:'#fff',
  grid: grids.map(g => Object.assign({show:true, borderColor:'#000', borderWidth:1, backgroundColor:'rgba(0,0,0,0)', containLabel:false}, g)),
  xAxis: xAxes,
  yAxis: yAxes,
  series: series,
  graphic: graphic
});
</script>
</body>
</html>
